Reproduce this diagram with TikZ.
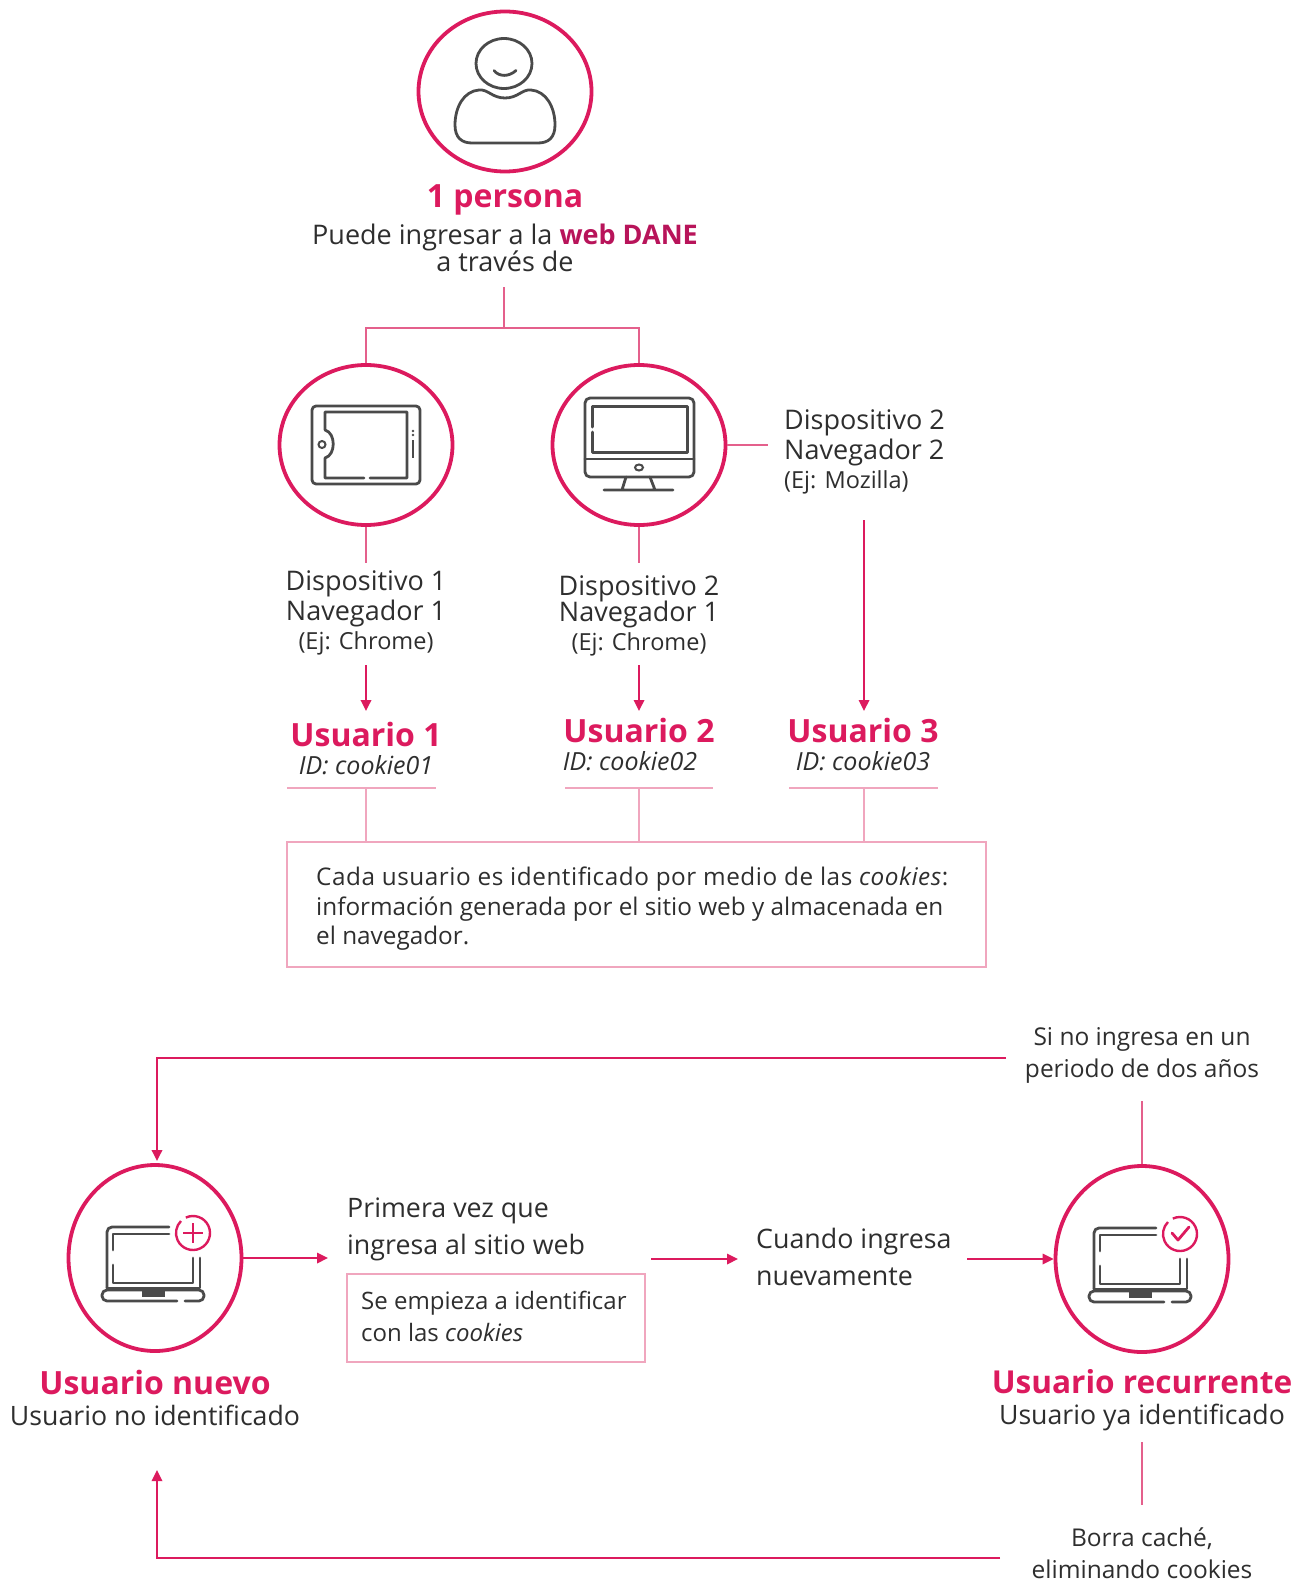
\documentclass[tikz,border=0pt]{standalone}
\usepackage{fontspec}
\setmainfont{Open Sans}
\usetikzlibrary{arrows.meta,shapes.geometric}
\definecolor{pinkm}{HTML}{DC1A5E}
\definecolor{pinkl}{HTML}{E4608C}
\definecolor{pinkb}{HTML}{F0A6BE}
\definecolor{wine}{HTML}{B8145A}
\definecolor{ink}{HTML}{2E2E2E}
\definecolor{icong}{HTML}{4A4A4A}
\newcommand{\fsz}[2]{\fontsize{#1}{#2}\selectfont}
\tikzset{
  x=1pt,y=-1pt,
  ring/.style={ellipse,draw=pinkm,line width=3.8pt,minimum width=173pt,inner sep=0pt},
  ringsmall/.style={ring,minimum height=160pt},
  ringbig/.style={ring,minimum height=186pt},
  conn/.style={draw=pinkl,line width=1.8pt},
  arr/.style={conn,draw=pinkm,-{Triangle[length=11pt,width=10.5pt]}},
  thin rule/.style={draw=pinkb,line width=1.3pt},
  tbox/.style={draw=pinkb,line width=1.4pt},
  body/.style={text=ink,align=center,inner sep=0pt,font=\fsz{27}{30}},
  bodyl/.style={text=ink,align=left,inner sep=0pt,font=\fsz{26.8}{37}},
  small/.style={text=ink,align=center,inner sep=0pt,font=\fsz{24.5}{30}},
  devt/.style={small,font=\fsz{27}{30}},
  head/.style={text=pinkm,inner sep=0pt,font=\fsz{32}{32}\bfseries},
  idt/.style={text=ink,inner sep=0pt,font=\fsz{25}{25}\itshape},
  ico/.style={draw=icong,line width=2.8pt,line join=round,line cap=round},
  laptopicon/.pic={
    \draw[ico,rounded corners=5pt] (14,-31) -- (-48,-31) -- (-48,30);
    \draw[ico] (14,-24) -- (-42,-24) -- (-42,-8) (-42,7) -- (-42,25) -- (38,25) -- (38,0);
    \draw[ico] (-48,30) -- (45,30) -- (45,0);
    \draw[ico,rounded corners=5pt] (22,43) -- (-53,43) -- (-53,32) -- (49,32) -- (49,43) -- (30,43);
    \fill[icong] (-13,32) rectangle (10,39);
    \draw[draw=pinkm,line width=2.4pt] ([shift={(245:17)}]38,-25) arc[start angle=245,end angle=585,radius=17];
  },
}
\begin{document}
\begin{tikzpicture}
\useasboundingbox (0,0) rectangle (1307,1581);

% circles
\node[ringsmall] (person) at (505,91.5) {};
\node[ringsmall] (tablet) at (366,445) {};
\node[ringsmall] (monitor) at (639,445) {};
\node[ringbig] (nuevo) at (155,1258) {};
\node[ringbig] (recur) at (1142,1259) {};

% person icon
\draw[ico] (504,63.5) ellipse[x radius=28,y radius=25];
\draw[ico] (494,70.5) .. controls (499,77) and (509,77) .. (516,70.5);
\draw[ico] (479,90) .. controls (488,89) and (492,98) .. (505,98) .. controls (518,98) and (522,89) .. (531,90)
  .. controls (546,91) and (555,107) .. (555,125) .. controls (555,138) and (548,143) .. (538,143)
  -- (472,143) .. controls (462,143) and (455,138) .. (455,125) .. controls (455,107) and (464,91) .. (479,90) -- cycle;

% tablet icon
\draw[ico,rounded corners=4pt] (312,406) rectangle (420,484);
\draw[ico] (325,430) -- (325,412) -- (407,412) -- (407,478) -- (370,478) (364,478) -- (325,478) -- (325,458) .. controls (336,455) and (336,433) .. (325,430);
\draw[icong,line width=2pt] (322,444.5) circle[radius=3.5];
\draw[icong,line width=2.6pt] (413,440) -- (413,458);
\fill[icong] (413,431) circle[radius=1.3] (413,435) circle[radius=1.3];

% monitor icon
\draw[ico,rounded corners=5pt] (585,398) rectangle (694,477);
\draw[ico,line width=3pt] (592,427) -- (592,406) -- (687,406) -- (687,452) -- (592,452) -- (592,432);
\draw[ico] (585,459) -- (694,459);
\draw[icong,line width=2pt] (639,467.5) ellipse[x radius=4,y radius=3];
\draw[ico] (626,477) -- (622,490) (650,477) -- (655,490) (604,490) -- (673,490);

% laptops
\pic at (155,1258) {laptopicon};
\pic at (1142,1259) {laptopicon};
\draw[draw=pinkm,line width=2.4pt] (193,1223) -- (193,1243) (183,1233) -- (203,1233);
\draw[draw=pinkm,line width=2.8pt,line cap=round,line join=round] (1172,1233) -- (1178,1240) -- (1189,1227);

% top texts
\node[head] (t1) at (505,200) {1 persona};
\node[body] (t2) at (505,237) {Puede ingresar a la {\bfseries\color{wine}web DANE}};
\node[body] (t3) at (505,261) {a través de};

\node[devt] (d1) at (366,613) {Dispositivo 1\\Navegador 1\\[-1pt]{\fsz{23.5}{26}(Ej: Chrome)}};
\node[devt] (d2) at (639,616) {Dispositivo 2\\[-4pt]Navegador 1\\[-1pt]{\fsz{23.5}{26}(Ej: Chrome)}};
\node[devt,anchor=west,align=left] (d3) at (784,452) {Dispositivo 2\\Navegador 2\\[-1pt]{\fsz{23.5}{26}(Ej: Mozilla)}};

\node[head] (u1) at (366,734) {Usuario 1};
\node[head] (u2) at (639,730) {Usuario 2};
\node[head] (u3) at (863,730) {Usuario 3};
\node[idt] (i1) at (366,765.5) {ID: cookie01};
\node[idt] (i2) at (630,761.5) {ID: cookie02};
\node[idt] (i3) at (863,761.5) {ID: cookie03};

% info box
\node[tbox,minimum width=699pt,minimum height=125pt,inner sep=0pt] (info) at (636.5,904.5) {};
\node[anchor=west,text=ink,align=left,inner sep=0pt,font=\fsz{24.3}{29.5}] (infot) at (316,909) {{\addfontfeature{LetterSpace=2.2}Cada usuario es identificado por medio de las \textit{cookies}:}\\información generada por el sitio web y almacenada en\\el navegador.};

% lower texts
\node[small] (si) at (1142,1055) {Si no ingresa en un\\[2pt]periodo de dos años};
\node[bodyl,anchor=west] (prim) at (347,1229) {Primera vez que\\ingresa al sitio web};
\node[tbox,minimum width=298pt,minimum height=88pt,inner sep=0pt] (iden) at (496,1318) {};
\node[small,anchor=west,align=left,font=\fsz{24}{32}] (ident) at (361,1316) {Se empieza a identificar\\con las \textit{cookies}};
\node[bodyl,anchor=west] (cuando) at (756,1257) {Cuando ingresa\\nuevamente};
\node[head] (un) at (155,1382) {Usuario nuevo};
\node[body,font=\fsz{26.7}{30}] (un2) at (155,1415) {Usuario no identificado};
\node[head,font=\fsz{31.6}{32}\bfseries] (ur) at (1142,1382) {Usuario recurrente};
\node[body,font=\fsz{26.7}{30}] (ur2) at (1142,1417) {Usuario ya identificado};
\node[small] (borra) at (1142,1553) {Borra caché,\\[2pt]eliminando cookies};

% free ends
\coordinate (trunk) at (504,287);
\coordinate (fork) at (504,328);
\coordinate (forkl) at (366,328);
\coordinate (forkr) at (639,328);
\coordinate (m1) at (768,445);
\coordinate (a1) at (366,563);
\coordinate (a2) at (639,563);
\coordinate (b1) at (366,665);
\coordinate (b2) at (639,665);
\coordinate (b3) at (864,520);
\coordinate (c1) at (366,711);
\coordinate (c2) at (639,711);
\coordinate (c3) at (864,711);
\coordinate (r1) at (366,788);
\coordinate (r2) at (639,788);
\coordinate (r3) at (864,788);
\coordinate (siup) at (1142,1101);
\coordinate (sil) at (1006,1058);
\coordinate (sic) at (157,1058);
\coordinate (nt) at (157,1161);
\coordinate (e1) at (328,1258);
\coordinate (e2a) at (651,1259);
\coordinate (e2b) at (738,1259);
\coordinate (e3) at (967,1259);
\coordinate (bt) at (1142,1442);
\coordinate (bb) at (1142,1505);
\coordinate (bl) at (1000,1558);
\coordinate (bc) at (157,1558);
\coordinate (be) at (157,1470);

% connectors
\draw[conn] (trunk) -- (fork);
\draw[conn] (tablet.north) -- (forkl) -- (forkr) -- (monitor.north);
\draw[conn] (monitor.east) -- (m1);
\draw[conn] (tablet.south) -- (a1);
\draw[conn] (monitor.south) -- (a2);
\draw[arr] (b1) -- (c1);
\draw[arr] (b2) -- (c2);
\draw[arr] (b3) -- (c3);
\draw[thin rule] (287,788) -- (436,788);
\draw[thin rule] (565,788) -- (713,788);
\draw[thin rule] (789,788) -- (938,788);
\draw[thin rule] (r1) -- (r1 |- info.north);
\draw[thin rule] (r2) -- (r2 |- info.north);
\draw[thin rule] (r3) -- (r3 |- info.north);
\draw[conn] (siup) -- (recur.north);
\draw[arr] (sil) -- (sic) -- (nt);
\draw[arr] (nuevo.east) -- (e1);
\draw[arr] (e2a) -- (e2b);
\draw[arr] (e3) -- (recur.west);
\draw[conn] (bt) -- (bb);
\draw[arr] (bl) -- (bc) -- (be);
\end{tikzpicture}
\end{document}
